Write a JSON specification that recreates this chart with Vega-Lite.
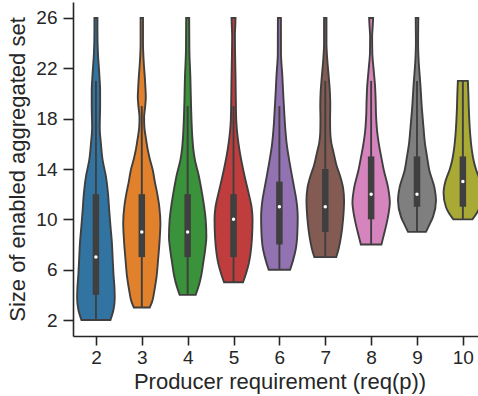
{
  "$schema": "https://vega.github.io/schema/vega-lite/v6.json",
  "autosize": "none",
  "width": 405,
  "height": 334,
  "padding": {"left": 73, "top": 2, "right": 0, "bottom": 60},
  "background": "white",
  "config": {
    "view": {"stroke": null},
    "font": "Liberation Sans",
    "axis": {
      "grid": false,
      "domainColor": "#262626",
      "domainWidth": 1.6,
      "tickColor": "#262626",
      "tickWidth": 1.6,
      "labelColor": "#262626",
      "titleColor": "#262626",
      "labelFont": "Liberation Sans",
      "titleFont": "Liberation Sans",
      "labelFontSize": 19,
      "titleFontSize": 22,
      "titleFontWeight": "normal"
    }
  },
  "datasets": {
    "violins": [
      {"g": 2, "v": 2, "w": 14.5}, {"g": 2, "v": 2.8, "w": 17.5}, {"g": 2, "v": 3.7, "w": 18.8}, {"g": 2, "v": 4.6, "w": 18.5}, {"g": 2, "v": 5.6, "w": 17.6}, {"g": 2, "v": 6.8, "w": 16.8}, {"g": 2, "v": 8.1, "w": 16}, {"g": 2, "v": 9.5, "w": 14.5}, {"g": 2, "v": 10.7, "w": 13.3}, {"g": 2, "v": 12.1, "w": 12}, {"g": 2, "v": 13.4, "w": 10}, {"g": 2, "v": 14.7, "w": 6.7}, {"g": 2, "v": 16, "w": 5}, {"g": 2, "v": 17.3, "w": 3.8}, {"g": 2, "v": 19, "w": 4.2}, {"g": 2, "v": 20.2, "w": 4.2}, {"g": 2, "v": 21.5, "w": 3.4}, {"g": 2, "v": 23.2, "w": 2}, {"g": 2, "v": 25, "w": 1.5}, {"g": 2, "v": 26, "w": 1.5},
      {"g": 3, "v": 3, "w": 8}, {"g": 3, "v": 3.5, "w": 10.5}, {"g": 3, "v": 4.3, "w": 12.5}, {"g": 3, "v": 5.4, "w": 14.7}, {"g": 3, "v": 6.8, "w": 16.3}, {"g": 3, "v": 8.3, "w": 17.8}, {"g": 3, "v": 9.7, "w": 18.6}, {"g": 3, "v": 11, "w": 17.5}, {"g": 3, "v": 12.1, "w": 15.3}, {"g": 3, "v": 13, "w": 13}, {"g": 3, "v": 13.9, "w": 11}, {"g": 3, "v": 14.8, "w": 8}, {"g": 3, "v": 15.6, "w": 5.8}, {"g": 3, "v": 16.5, "w": 4}, {"g": 3, "v": 17.3, "w": 2.6}, {"g": 3, "v": 18.1, "w": 2.3}, {"g": 3, "v": 19, "w": 3.4}, {"g": 3, "v": 19.7, "w": 4}, {"g": 3, "v": 20.5, "w": 3.6}, {"g": 3, "v": 21.3, "w": 3}, {"g": 3, "v": 22.4, "w": 2}, {"g": 3, "v": 24, "w": 1.2}, {"g": 3, "v": 26, "w": 1.2},
      {"g": 4, "v": 4, "w": 8}, {"g": 4, "v": 4.7, "w": 11}, {"g": 4, "v": 5.5, "w": 13.5}, {"g": 4, "v": 6.5, "w": 15.5}, {"g": 4, "v": 7.6, "w": 17.5}, {"g": 4, "v": 8.6, "w": 18.7}, {"g": 4, "v": 10, "w": 18}, {"g": 4, "v": 11, "w": 16.5}, {"g": 4, "v": 12.1, "w": 14.3}, {"g": 4, "v": 13.5, "w": 11}, {"g": 4, "v": 14.7, "w": 7.3}, {"g": 4, "v": 15.6, "w": 5.6}, {"g": 4, "v": 16.6, "w": 4.6}, {"g": 4, "v": 18.7, "w": 3.5}, {"g": 4, "v": 21.3, "w": 2.7}, {"g": 4, "v": 23.5, "w": 1.7}, {"g": 4, "v": 26, "w": 1.5},
      {"g": 5, "v": 5, "w": 9.5}, {"g": 5, "v": 5.7, "w": 12.5}, {"g": 5, "v": 6.4, "w": 15}, {"g": 5, "v": 7.3, "w": 17}, {"g": 5, "v": 8.6, "w": 18.5}, {"g": 5, "v": 10, "w": 19}, {"g": 5, "v": 11, "w": 18}, {"g": 5, "v": 12.1, "w": 15}, {"g": 5, "v": 13.1, "w": 12}, {"g": 5, "v": 14.2, "w": 9}, {"g": 5, "v": 15.1, "w": 6.8}, {"g": 5, "v": 16, "w": 5}, {"g": 5, "v": 17, "w": 3.5}, {"g": 5, "v": 17.9, "w": 2.7}, {"g": 5, "v": 19.5, "w": 2.3}, {"g": 5, "v": 21.3, "w": 2}, {"g": 5, "v": 23, "w": 1.6}, {"g": 5, "v": 24.6, "w": 1.4}, {"g": 5, "v": 25.5, "w": 1.8}, {"g": 5, "v": 26, "w": 2},
      {"g": 6, "v": 6, "w": 10.7}, {"g": 6, "v": 6.7, "w": 13.5}, {"g": 6, "v": 7.6, "w": 16.3}, {"g": 6, "v": 9, "w": 18}, {"g": 6, "v": 10.2, "w": 18.3}, {"g": 6, "v": 11.5, "w": 17}, {"g": 6, "v": 12.5, "w": 14.8}, {"g": 6, "v": 13.4, "w": 12.7}, {"g": 6, "v": 14.6, "w": 10}, {"g": 6, "v": 16, "w": 7.3}, {"g": 6, "v": 17.3, "w": 5.8}, {"g": 6, "v": 18.7, "w": 4.7}, {"g": 6, "v": 20, "w": 3.8}, {"g": 6, "v": 21.3, "w": 3}, {"g": 6, "v": 23.2, "w": 1.6}, {"g": 6, "v": 26, "w": 1.5},
      {"g": 7, "v": 7, "w": 11}, {"g": 7, "v": 7.7, "w": 13.5}, {"g": 7, "v": 8.6, "w": 15.7}, {"g": 7, "v": 10, "w": 17.8}, {"g": 7, "v": 11.5, "w": 18.8}, {"g": 7, "v": 12.5, "w": 17.8}, {"g": 7, "v": 13.4, "w": 15}, {"g": 7, "v": 14.3, "w": 11.2}, {"g": 7, "v": 15.3, "w": 8.3}, {"g": 7, "v": 16.1, "w": 6}, {"g": 7, "v": 16.9, "w": 5}, {"g": 7, "v": 18, "w": 4.8}, {"g": 7, "v": 19, "w": 5}, {"g": 7, "v": 20, "w": 4.7}, {"g": 7, "v": 21.3, "w": 3.5}, {"g": 7, "v": 22.7, "w": 2}, {"g": 7, "v": 24, "w": 1.2}, {"g": 7, "v": 26, "w": 1.2},
      {"g": 8, "v": 8, "w": 10.3}, {"g": 8, "v": 8.7, "w": 12.5}, {"g": 8, "v": 9.4, "w": 14.7}, {"g": 8, "v": 10.5, "w": 17.5}, {"g": 8, "v": 11.3, "w": 18.7}, {"g": 8, "v": 12.5, "w": 17}, {"g": 8, "v": 13.9, "w": 12.7}, {"g": 8, "v": 15, "w": 10}, {"g": 8, "v": 16, "w": 7.7}, {"g": 8, "v": 17, "w": 6}, {"g": 8, "v": 18.1, "w": 5}, {"g": 8, "v": 19.5, "w": 4.5}, {"g": 8, "v": 20.5, "w": 4}, {"g": 8, "v": 21.9, "w": 2.5}, {"g": 8, "v": 23.2, "w": 1.2}, {"g": 8, "v": 24.5, "w": 1}, {"g": 8, "v": 25.5, "w": 1.7}, {"g": 8, "v": 26, "w": 2},
      {"g": 9, "v": 9, "w": 9}, {"g": 9, "v": 9.5, "w": 12}, {"g": 9, "v": 10.2, "w": 16}, {"g": 9, "v": 11.5, "w": 19}, {"g": 9, "v": 12.5, "w": 17.5}, {"g": 9, "v": 13.9, "w": 12.3}, {"g": 9, "v": 15, "w": 10}, {"g": 9, "v": 16, "w": 8}, {"g": 9, "v": 17.3, "w": 6.5}, {"g": 9, "v": 18.7, "w": 5}, {"g": 9, "v": 20.8, "w": 3.3}, {"g": 9, "v": 22.7, "w": 1.6}, {"g": 9, "v": 24, "w": 1.1}, {"g": 9, "v": 26, "w": 1.3},
      {"g": 10, "v": 10, "w": 9.5}, {"g": 10, "v": 10.5, "w": 14}, {"g": 10, "v": 11, "w": 17}, {"g": 10, "v": 12.1, "w": 19.3}, {"g": 10, "v": 13, "w": 17.5}, {"g": 10, "v": 14, "w": 13}, {"g": 10, "v": 14.7, "w": 10.7}, {"g": 10, "v": 15.8, "w": 8.5}, {"g": 10, "v": 16.8, "w": 7.3}, {"g": 10, "v": 18.7, "w": 6}, {"g": 10, "v": 20, "w": 5.5}, {"g": 10, "v": 21, "w": 5}
    ],
    "boxes": [
      {"g": 2, "wlo": 2, "q1": 4, "med": 7, "q3": 12, "whi": 21},
      {"g": 3, "wlo": 3, "q1": 7, "med": 9, "q3": 12, "whi": 19},
      {"g": 4, "wlo": 4, "q1": 7, "med": 9, "q3": 12, "whi": 19},
      {"g": 5, "wlo": 5, "q1": 7, "med": 10, "q3": 12, "whi": 19},
      {"g": 6, "wlo": 6, "q1": 8, "med": 11, "q3": 13, "whi": 19},
      {"g": 7, "wlo": 7, "q1": 9, "med": 11, "q3": 14, "whi": 21},
      {"g": 8, "wlo": 8, "q1": 10, "med": 12, "q3": 15, "whi": 21},
      {"g": 9, "wlo": 9, "q1": 11, "med": 12, "q3": 15, "whi": 21},
      {"g": 10, "wlo": 10, "q1": 11, "med": 13, "q3": 15, "whi": 21}
    ]
  },
  "layer": [
    {
      "data": {"name": "violins"},
      "transform": [
        {"calculate": "datum.g - datum.w / 45.875", "as": "lo"},
        {"calculate": "datum.g + datum.w / 45.875", "as": "hi"}
      ],
      "mark": {"type": "area", "orient": "horizontal", "interpolate": "monotone", "stroke": "#3f3f3f", "strokeWidth": 1.9, "fillOpacity": 1, "clip": true},
      "encoding": {
        "y": {"field": "v", "type": "quantitative",
          "scale": {"domain": [0.73, 27.27], "nice": false, "zero": false},
          "axis": {"values": [2, 6, 10, 14, 18, 22, 26], "title": "Size of enabled aggregated set", "tickSize": 10, "labelPadding": 6, "titlePadding": 6}},
        "x": {"field": "lo", "type": "quantitative", "stack": null,
          "scale": {"domain": [1.5, 10.33], "nice": false, "zero": false},
          "axis": {"values": [2, 3, 4, 5, 6, 7, 8, 9, 10], "title": "Producer requirement (req(p))", "tickSize": 9, "labelPadding": 3, "titlePadding": 4, "titleX": 206.5, "labelFlush": false}},
        "x2": {"field": "hi"},
        "detail": {"field": "g", "type": "nominal"},
        "color": {"field": "g", "type": "nominal", "legend": null,
          "scale": {"domain": [2, 3, 4, 5, 6, 7, 8, 9, 10], "range": ["#3274a1", "#e1812c", "#3a923a", "#c03d3e", "#9372b2", "#845b53", "#d684bd", "#7f7f7f", "#a9aa35"]}}
      }
    },
    {
      "data": {"name": "boxes"},
      "mark": {"type": "rule", "color": "#3f3f3f", "strokeWidth": 1.9, "clip": true},
      "encoding": {
        "x": {"field": "g", "type": "quantitative"},
        "y": {"field": "wlo", "type": "quantitative"},
        "y2": {"field": "whi"}
      }
    },
    {
      "data": {"name": "boxes"},
      "mark": {"type": "rule", "color": "#3f3f3f", "strokeWidth": 6.5, "strokeCap": "butt", "clip": true},
      "encoding": {
        "x": {"field": "g", "type": "quantitative"},
        "y": {"field": "q1", "type": "quantitative"},
        "y2": {"field": "q3"}
      }
    },
    {
      "data": {"name": "boxes"},
      "mark": {"type": "point", "filled": true, "color": "white", "opacity": 1, "size": 12, "clip": true},
      "encoding": {
        "x": {"field": "g", "type": "quantitative"},
        "y": {"field": "med", "type": "quantitative"}
      }
    }
  ]
}
